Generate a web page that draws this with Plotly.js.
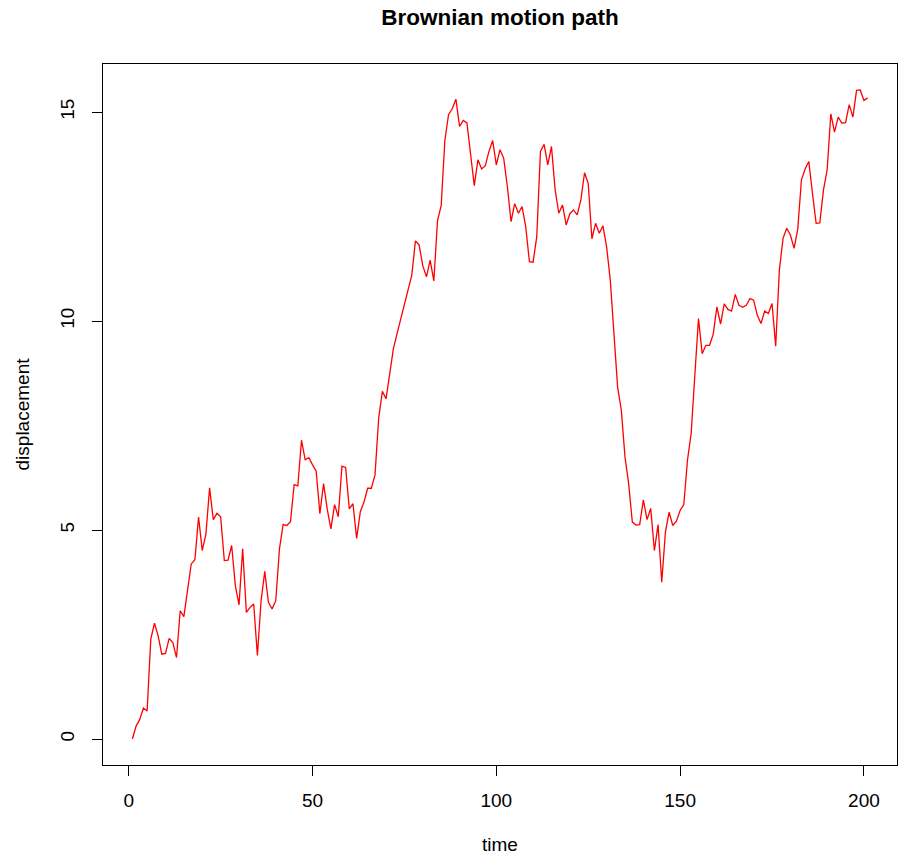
<!DOCTYPE html>
<html>
<head>
<meta charset="utf-8">
<script src="https://cdn.plot.ly/plotly-3.0.1.min.js"></script>
<style>html,body{margin:0;padding:0;background:#fff;}#chart{width:899px;height:855px;}</style>
</head>
<body>
<div id="chart"></div>
<script>
// Displacement values, one per time step (t = 1..201)
const displacement = [
  0, 0.31, 0.47, 0.74, 0.67, 2.39, 2.77, 2.47, 2.03, 2.05,
  2.41, 2.31, 1.95, 3.07, 2.93, 3.6, 4.19, 4.29, 5.31, 4.51,
  4.91, 6.01, 5.25, 5.40, 5.32, 4.27, 4.28, 4.63, 3.67, 3.21,
  4.55, 3.03, 3.15, 3.23, 2.00, 3.3, 4.01, 3.27, 3.11, 3.31,
  4.55, 5.13, 5.11, 5.20, 6.09, 6.06, 7.15, 6.68, 6.73, 6.56,
  6.41, 5.39, 6.11, 5.5, 5.03, 5.61, 5.32, 6.53, 6.5, 5.51,
  5.63, 4.80, 5.44, 5.67, 6.00, 6.0, 6.32, 7.68, 8.32, 8.14,
  8.80, 9.34, 9.7, 10.05, 10.4, 10.75, 11.1, 11.92, 11.82, 11.32,
  11.06, 11.46, 10.96, 12.40, 12.77, 14.32, 14.94, 15.08, 15.31, 14.66,
  14.80, 14.74, 13.96, 13.24, 13.86, 13.64, 13.72, 14.06, 14.32, 13.74,
  14.10, 13.90, 13.22, 12.38, 12.81, 12.58, 12.74, 12.26, 11.42, 11.41,
  12.02, 14.06, 14.23, 13.74, 14.18, 13.14, 12.58, 12.78, 12.30, 12.57,
  12.66, 12.54, 12.90, 13.55, 13.29, 11.97, 12.34, 12.10, 12.28, 11.78,
  10.98, 9.7, 8.42, 7.87, 6.75, 6.11, 5.19, 5.12, 5.13, 5.72,
  5.25, 5.52, 4.51, 5.13, 3.75, 4.95, 5.43, 5.11, 5.21, 5.47,
  5.61, 6.67, 7.31, 8.7, 10.06, 9.22, 9.42, 9.42, 9.68, 10.34,
  9.93, 10.41, 10.28, 10.24, 10.64, 10.38, 10.33, 10.38, 10.54, 10.50,
  10.14, 9.94, 10.24, 10.18, 10.42, 9.40, 11.22, 11.98, 12.22, 12.06,
  11.74, 12.20, 13.38, 13.64, 13.82, 13.06, 12.34, 12.35, 13.14, 13.62,
  14.96, 14.52, 14.88, 14.74, 14.75, 15.18, 14.88, 15.52, 15.53, 15.28,
  15.34
];
const time = displacement.map((_, i) => i + 1);
const xTicks = [0, 50, 100, 150, 200];
const yTicks = [0, 5, 10, 15];
const chartTitle = "Brownian motion path";
const xLabel = "time";
const yLabel = "displacement";

const FONT = "Liberation Sans, Arial, Helvetica, sans-serif";
const ymin = Math.min(...displacement), ymax = Math.max(...displacement);
const ypad = 0.04 * (ymax - ymin);
const xpad = 0.04 * (time[time.length - 1] - time[0]);

const trace = {
  x: time,
  y: displacement,
  type: "scatter",
  mode: "lines",
  line: {color: "#ff0000", width: 1.3},
  hoverinfo: "x+y"
};

const axisCommon = {
  showgrid: false,
  zeroline: false,
  showline: true,
  mirror: true,
  linecolor: "#000",
  linewidth: 1,
  ticks: "outside",
  ticklen: 10,
  tickwidth: 1,
  tickcolor: "#000",
  tickfont: {family: FONT, size: 19, color: "#000"}
};

const layout = {
  width: 899,
  height: 855,
  paper_bgcolor: "#fff",
  plot_bgcolor: "#fff",
  margin: {l: 103, r: 2, t: 64, b: 90},
  showlegend: false,
  font: {family: FONT, size: 19, color: "#000"},
  title: {
    text: "<b>" + chartTitle + "</b>",
    font: {family: FONT, size: 22.5, color: "#000"},
    x: 0.5, xref: "paper", xanchor: "center",
    y: 1 - 17 / 855, yref: "container", yanchor: "middle"
  },
  xaxis: Object.assign({}, axisCommon, {
    range: [time[0] - xpad, time[time.length - 1] + xpad],
    tickmode: "array",
    tickvals: xTicks,
    ticktext: xTicks.map(String),
    ticklabelstandoff: 8,
    title: {text: xLabel, font: {family: FONT, size: 19, color: "#000"}, standoff: 27}
  }),
  yaxis: Object.assign({}, axisCommon, {
    range: [ymin - ypad, ymax + ypad],
    tickmode: "array",
    tickvals: yTicks,
    ticktext: yTicks.map(String),
    tickangle: -90,
    ticklabelstandoff: 10,
    title: {text: yLabel, font: {family: FONT, size: 19, color: "#000"}, standoff: 22}
  })
};

Plotly.newPlot("chart", [trace], layout, {displayModeBar: false, staticPlot: true});
</script>
</body>
</html>
